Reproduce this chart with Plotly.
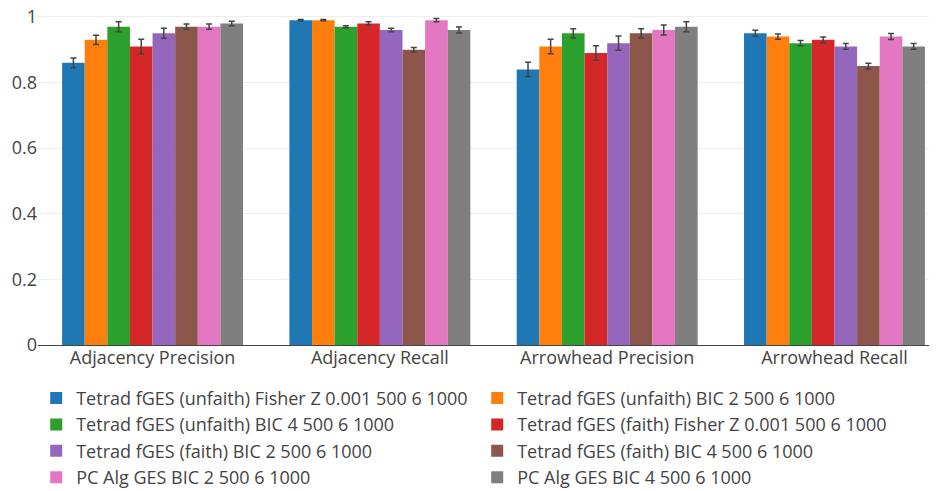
import plotly.graph_objects as go

categories = ["Adjacency Precision", "Adjacency Recall", "Arrowhead Precision", "Arrowhead Recall"]

series_names = [
    "Tetrad fGES (unfaith) Fisher Z 0.001 500 6 1000",
    "Tetrad fGES (unfaith) BIC 2 500 6 1000",
    "Tetrad fGES (unfaith) BIC 4 500 6 1000",
    "Tetrad fGES (faith) Fisher Z 0.001 500 6 1000",
    "Tetrad fGES (faith) BIC 2 500 6 1000",
    "Tetrad fGES (faith) BIC 4 500 6 1000",
    "PC Alg GES BIC 2 500 6 1000",
    "PC Alg GES BIC 4 500 6 1000",
]

values_unfaith_fz = [0.86, 0.99, 0.84, 0.95]
values_unfaith_bic2 = [0.93, 0.99, 0.91, 0.94]
values_unfaith_bic4 = [0.97, 0.97, 0.95, 0.92]
values_faith_fz = [0.91, 0.98, 0.89, 0.93]
values_faith_bic2 = [0.95, 0.96, 0.92, 0.91]
values_faith_bic4 = [0.97, 0.90, 0.95, 0.85]
values_pc_bic2 = [0.97, 0.99, 0.96, 0.94]
values_pc_bic4 = [0.98, 0.96, 0.97, 0.91]

err_unfaith_fz = [0.015, 0.002, 0.022, 0.009]
err_unfaith_bic2 = [0.014, 0.002, 0.022, 0.008]
err_unfaith_bic4 = [0.015, 0.003, 0.014, 0.008]
err_faith_fz = [0.022, 0.005, 0.022, 0.009]
err_faith_bic2 = [0.015, 0.005, 0.022, 0.009]
err_faith_bic4 = [0.008, 0.007, 0.014, 0.009]
err_pc_bic2 = [0.008, 0.005, 0.015, 0.009]
err_pc_bic4 = [0.007, 0.009, 0.015, 0.009]

all_values = [values_unfaith_fz, values_unfaith_bic2, values_unfaith_bic4, values_faith_fz,
              values_faith_bic2, values_faith_bic4, values_pc_bic2, values_pc_bic4]
all_errors = [err_unfaith_fz, err_unfaith_bic2, err_unfaith_bic4, err_faith_fz,
              err_faith_bic2, err_faith_bic4, err_pc_bic2, err_pc_bic4]

colors = ["#1f77b4", "#ff7f0e", "#2ca02c", "#d62728", "#9467bd", "#8c564b", "#e377c2", "#7f7f7f"]

fig = go.Figure()
for name, vals, errs, c in zip(series_names, all_values, all_errors, colors):
    fig.add_trace(go.Bar(
        name=name, x=categories, y=vals,
        marker=dict(color=c, line=dict(width=0)),
        error_y=dict(type="data", array=errs, visible=True, color="#444", thickness=1.5, width=3),
    ))

fig.update_layout(
    width=929, height=483,
    barmode="group",
    bargap=0.204, bargroupgap=0,
    font=dict(family="Open Sans", size=18, color="#444"),
    paper_bgcolor="white", plot_bgcolor="white",
    margin=dict(l=30, r=0, t=2, b=146, autoexpand=False),
    yaxis=dict(range=[0, 1.021], tickvals=[0, 0.2, 0.4, 0.6, 0.8, 1],
               ticktext=["0", "0.2", "0.4", "0.6", "0.8", "1"],
               gridcolor="#eee", zeroline=True, zerolinecolor="#444",
               zerolinewidth=1, ticks="", tickfont=dict(size=18),
               ticklabeloverflow="allow"),
    xaxis=dict(range=[-0.504, 3.451], tickfont=dict(size=18), ticklabeloverflow="allow"),
    legend=dict(orientation="h", x=-0.002, y=-0.104, xanchor="left", yanchor="top",
                font=dict(size=18), entrywidth=396, tracegroupgap=0),
    showlegend=True,
)

fig.write_html("out.html")
